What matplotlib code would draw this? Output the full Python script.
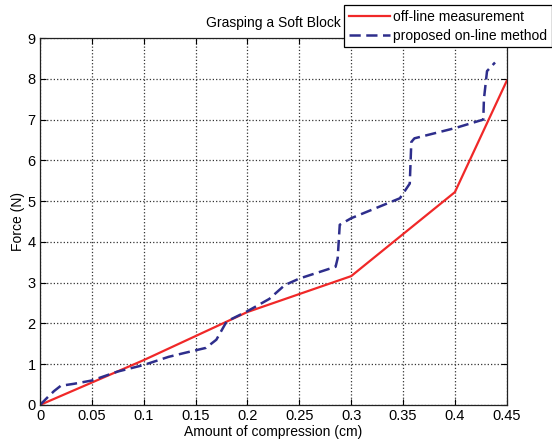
import matplotlib
matplotlib.use("Agg")
import matplotlib.pyplot as plt

plt.rcParams['font.family'] = ['Liberation Sans', 'DejaVu Sans']

# off-line measurement
off_x = [0.0, 0.1, 0.2, 0.3, 0.4, 0.45]
off_f = [0.0, 1.1, 2.28, 3.16, 5.22, 7.95]

# proposed on-line method
on_x = [0.0, 0.007, 0.0135, 0.02, 0.033, 0.05, 0.075, 0.1, 0.124, 0.14, 0.16,
        0.17, 0.18, 0.2, 0.221, 0.236, 0.25, 0.285, 0.287, 0.289, 0.3,
        0.347, 0.3565, 0.358, 0.361, 0.4, 0.4274, 0.428, 0.431, 0.4387]
on_f = [0.0, 0.18, 0.34, 0.47, 0.52, 0.6, 0.82, 0.98, 1.18, 1.28, 1.4,
        1.6, 2.05, 2.3, 2.6, 2.94, 3.1, 3.39, 3.6, 4.42, 4.58,
        5.07, 5.43, 6.45, 6.54, 6.79, 7.0, 7.5, 8.19, 8.4]

xticks = [0, 0.05, 0.1, 0.15, 0.2, 0.25, 0.3, 0.35, 0.4, 0.45]
xtick_labels = ["0", "0.05", "0.1", "0.15", "0.2", "0.25", "0.3", "0.35", "0.4", "0.45"]
yticks = list(range(0, 10))

fs = 10

fig = plt.figure(figsize=(5.52, 4.45), dpi=100)
ax = fig.add_axes([0.0725, 0.09, 0.8455, 0.8245])

ax.plot(off_x, off_f, color="#f02828", linewidth=1.6, label="off-line measurement")
ax.plot(on_x, on_f, color="#2e2e8c", linewidth=1.8, linestyle=(0, (4.5, 2.2)),
        label="proposed on-line method")

ax.set_xlim(0, 0.45)
ax.set_ylim(0, 9)
ax.set_xticks(xticks)
ax.set_xticklabels(xtick_labels)
ax.set_yticks(yticks)
ax.tick_params(direction="in", top=True, right=True, length=4, labelsize=fs + 0.5, pad=3)
ax.grid(True, linestyle=":", color="#333333", linewidth=0.9)
for s in ax.spines.values():
    s.set_color("#222222")
    s.set_linewidth(0.9)

ax.set_xlabel("Amount of compression (cm)", fontsize=fs, labelpad=1)
ax.set_ylabel("Force (N)", fontsize=fs, labelpad=2)
ax.set_title("Grasping a Soft Block", fontsize=fs, pad=8)

leg = ax.legend(loc="upper left", bbox_to_anchor=(0.623, 0.989),
                bbox_transform=fig.transFigure, fontsize=fs,
                handlelength=3.0, handletextpad=0.2, borderpad=0.35,
                labelspacing=0.35, borderaxespad=0, fancybox=False,
                framealpha=1, edgecolor="black")
leg.get_frame().set_linewidth(0.9)

fig.savefig("out.png", dpi=100)
